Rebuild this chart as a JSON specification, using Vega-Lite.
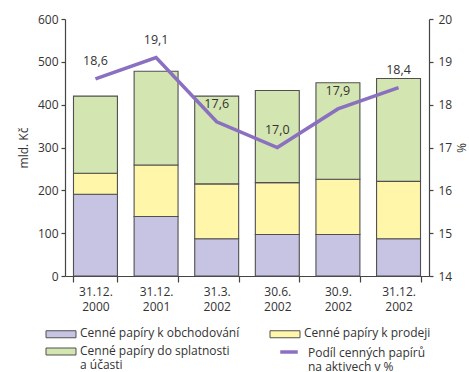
{
  "$schema": "https://vega.github.io/schema/vega-lite/v6.json",
  "width": 364,
  "height": 257,
  "autosize": {"type": "none"},
  "padding": {"left": 65, "top": 19, "right": 40, "bottom": 96},
  "config": {
    "font": "Open Sans",
    "view": {"stroke": null},
    "locale": {"number": {"decimal": ",", "thousands": " ", "grouping": [3], "currency": ["", " Kč"]}},
    "axis": {
      "grid": false,
      "domainColor": "#444",
      "tickColor": "#444",
      "labelColor": "#333",
      "titleColor": "#333",
      "labelFont": "Open Sans",
      "titleFont": "Open Sans",
      "labelFontSize": 12,
      "titleFontSize": 12,
      "titleFontWeight": "normal",
      "domainWidth": 1.2,
      "tickWidth": 1.2
    }
  },
  "datasets": {
    "bars": [
      {"date": "31.12. 2000", "series": "Cenné papíry k obchodování", "value": 191, "ord": 1},
      {"date": "31.12. 2000", "series": "Cenné papíry k prodeji", "value": 49, "ord": 2},
      {"date": "31.12. 2000", "series": "Cenné papíry do splatnosti a účasti", "value": 180, "ord": 3},
      {"date": "31.12. 2001", "series": "Cenné papíry k obchodování", "value": 139, "ord": 1},
      {"date": "31.12. 2001", "series": "Cenné papíry k prodeji", "value": 120, "ord": 2},
      {"date": "31.12. 2001", "series": "Cenné papíry do splatnosti a účasti", "value": 219, "ord": 3},
      {"date": "31.3. 2002", "series": "Cenné papíry k obchodování", "value": 87, "ord": 1},
      {"date": "31.3. 2002", "series": "Cenné papíry k prodeji", "value": 128, "ord": 2},
      {"date": "31.3. 2002", "series": "Cenné papíry do splatnosti a účasti", "value": 205, "ord": 3},
      {"date": "30.6. 2002", "series": "Cenné papíry k obchodování", "value": 97, "ord": 1},
      {"date": "30.6. 2002", "series": "Cenné papíry k prodeji", "value": 121, "ord": 2},
      {"date": "30.6. 2002", "series": "Cenné papíry do splatnosti a účasti", "value": 215, "ord": 3},
      {"date": "30.9. 2002", "series": "Cenné papíry k obchodování", "value": 97, "ord": 1},
      {"date": "30.9. 2002", "series": "Cenné papíry k prodeji", "value": 129, "ord": 2},
      {"date": "30.9. 2002", "series": "Cenné papíry do splatnosti a účasti", "value": 225, "ord": 3},
      {"date": "31.12. 2002", "series": "Cenné papíry k obchodování", "value": 87, "ord": 1},
      {"date": "31.12. 2002", "series": "Cenné papíry k prodeji", "value": 134, "ord": 2},
      {"date": "31.12. 2002", "series": "Cenné papíry do splatnosti a účasti", "value": 240, "ord": 3}
    ],
    "share": [
      {"date": "31.12. 2000", "pct": 18.6},
      {"date": "31.12. 2001", "pct": 19.1},
      {"date": "31.3. 2002", "pct": 17.6},
      {"date": "30.6. 2002", "pct": 17.0},
      {"date": "30.9. 2002", "pct": 17.9},
      {"date": "31.12. 2002", "pct": 18.4}
    ]
  },
  "layer": [
    {
      "data": {"name": "bars"},
      "mark": {"type": "bar", "stroke": "#505050", "strokeWidth": 1.1},
      "encoding": {
        "x": {
          "field": "date", "type": "nominal", "sort": null,
          "scale": {"paddingInner": 0.275, "paddingOuter": 0.14},
          "axis": {"title": null, "labelAngle": 0, "labelExpr": "split(datum.label, ' ')", "tickBand": "extent", "tickSize": 6, "labelPadding": 4, "labelLineHeight": 15}
        },
        "y": {
          "field": "value", "type": "quantitative", "stack": "zero",
          "scale": {"domain": [0, 600]},
          "axis": {"title": "mld. Kč", "values": [0, 100, 200, 300, 400, 500, 600], "tickSize": 4, "labelPadding": 3, "titlePadding": 7}
        },
        "color": {
          "field": "series", "type": "nominal",
          "scale": {
            "domain": ["Cenné papíry k obchodování", "Cenné papíry k prodeji", "Cenné papíry do splatnosti a účasti"],
            "range": ["#c6c3e3", "#fff6aa", "#d3e5b0"]
          },
          "legend": {
            "title": null,
            "orient": "none",
            "legendX": -10,
            "legendY": 309,
            "columns": 2,
            "direction": "horizontal",
            "columnPadding": 28,
            "rowPadding": 4.5,
            "padding": 0,
            "symbolType": "M-3,-0.7H3V0.7H-3Z",
            "symbolSize": 100,
            "symbolStrokeColor": "#505050",
            "symbolStrokeWidth": 1,
            "symbolOpacity": 1,
            "labelOffset": 13,
            "labelFontSize": 12,
            "labelColor": "#333",
            "labelLimit": 300,
            "labelBaseline": "top",
            "labelExpr": "datum.label == 'Cenné papíry do splatnosti a účasti' ? ['Cenné papíry do splatnosti', 'a účasti'] : datum.label",
            "encode": {
              "labels": {"update": {"dy": {"value": -6}, "lineHeight": {"value": 14.5}}}
            }
          }
        },
        "order": {"field": "ord", "type": "quantitative"}
      }
    },
    {
      "data": {"name": "share"},
      "encoding": {
        "x": {"field": "date", "type": "nominal", "sort": null},
        "y": {
          "field": "pct", "type": "quantitative",
          "scale": {"domain": [14, 20], "zero": false},
          "axis": {"orient": "right", "title": "%", "values": [14, 15, 16, 17, 18, 19, 20], "tickSize": 4, "labelPadding": 5, "titlePadding": 2}
        }
      },
      "layer": [
        {
          "mark": {"type": "line", "strokeWidth": 3.5},
          "encoding": {
            "stroke": {
              "datum": "Podíl cenných papírů na aktivech v %",
              "scale": {"range": ["#8a70c0"]},
              "legend": {
                "title": null,
                "orient": "none",
                "legendX": 217,
                "legendY": 326,
                "padding": 0,
                "symbolType": "M-1.75,0H1.75",
                "symbolSize": 100,
                "symbolStrokeWidth": 3.5,
                "labelOffset": 12,
                "labelFontSize": 12,
                "labelColor": "#333",
                "labelLimit": 300,
                "labelBaseline": "top",
                "labelExpr": "['Podíl cenných papírů', 'na aktivech v %']",
                "encode": {
                  "labels": {"update": {"dy": {"value": -4.5}, "lineHeight": {"value": 14.5}}}
                }
              }
            }
          }
        },
        {
          "mark": {"type": "text", "dy": -18, "fontSize": 12.5, "color": "#333"},
          "encoding": {"text": {"field": "pct", "type": "quantitative", "format": ".1f"}}
        }
      ]
    }
  ],
  "resolve": {"scale": {"y": "independent"}}
}
